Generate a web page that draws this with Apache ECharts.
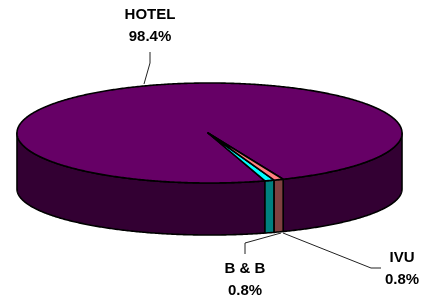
<!DOCTYPE html>
<html>
<head>
<meta charset="utf-8">
<script src="https://cdn.jsdelivr.net/npm/echarts@6/dist/echarts.min.js"></script>
<style>html,body{margin:0;padding:0;background:#fff}#c{width:425px;height:298px}</style>
</head>
<body>
<div id="c"></div>
<script>
// ---- data ----
const categories = ['HOTEL', 'B & B', 'IVU'];
const values = [98.4, 0.8, 0.8];

// ---- styles / layout (not data) ----
const topColors = ['#660066', '#00FFFF', '#FF8080'];
const sideColors = ['#330033', '#008080', '#804040'];
const G = { cx: 209.5, cy: 133, rx: 192.5, ry: 50, cyB: 189, ryB: 46, startT: 67.5 };
const labelLayout = [
  { x: 150, y: 26, leader: [[150, 52], [150, 63], [144, 84]] },
  { x: 245, y: 279.5, leader: [[281, 233], [245, 243], [245, 254]] },
  { x: 402, y: 268.5, leader: [[283, 233], [371, 268], [381, 268]] }
];

const total = values.reduce((a, b) => a + b, 0);
const ranges = [];
(function () {
  let acc = G.startT;
  values.forEach(v => {
    const hi = acc, lo = acc - v / total * 360;
    ranges.push([lo, hi]);
    acc = lo;
  });
})();

const rad = d => d * Math.PI / 180;
const topPt = t => [G.cx + G.rx * Math.cos(rad(t)), G.cy + G.ry * Math.sin(rad(t))];
const botPt = t => [G.cx + G.rx * Math.cos(rad(t)), G.cyB + G.ryB * Math.sin(rad(t))];
function arc(fn, a, b) {
  const pts = [];
  const n = Math.max(2, Math.ceil(Math.abs(b - a) / 0.5));
  for (let i = 0; i <= n; i++) pts.push(fn(a + (b - a) * i / n));
  return pts;
}

function renderItem(params, api) {
  const i = params.dataIndex;
  const [lo, hi] = ranges[i];
  const children = [];
  // visible side walls (front half: t in [0,180] mod 360)
  for (let k = -2; k <= 1; k++) {
    const a = Math.max(lo, 360 * k), b = Math.min(hi, 360 * k + 180);
    if (b > a) {
      const pts = arc(topPt, a, b).concat(arc(botPt, b, a));
      children.push({
        type: 'polygon', shape: { points: pts },
        style: { fill: sideColors[i], stroke: '#000', lineWidth: 1.6, lineJoin: 'round' }
      });
    }
  }
  // top sector
  const tp = [[G.cx - 1.5, G.cy]].concat(arc(topPt, lo, hi));
  children.push({
    type: 'polygon', shape: { points: tp }, z2: 5,
    style: { fill: topColors[i], stroke: '#000', lineWidth: 1.6, lineJoin: 'round' }
  });
  // leader line + label
  const L = labelLayout[i];
  children.push({
    type: 'polyline', shape: { points: L.leader }, z2: 10,
    style: { stroke: '#222', lineWidth: 1, fill: null }
  });
  const pct = (api.value(0) / total * 100).toFixed(1) + '%';
  children.push({
    type: 'text', x: L.x, y: L.y, z2: 10,
    style: {
      text: categories[i] + '\n' + pct,
      fontFamily: 'Liberation Sans, Arial, sans-serif', fontWeight: 'bold', fontSize: 15,
      lineHeight: 22, fill: '#000', align: 'center', verticalAlign: 'middle'
    }
  });
  return { type: 'group', children: children };
}

const chart = echarts.init(document.getElementById('c'), null, { renderer: 'canvas' });
chart.setOption({
  backgroundColor: '#fff',
  animation: false,
  series: [{
    type: 'custom',
    coordinateSystem: 'none',
    renderItem: renderItem,
    data: values.map((v, i) => ({ name: categories[i], value: [v] }))
  }]
});
</script>
</body>
</html>
